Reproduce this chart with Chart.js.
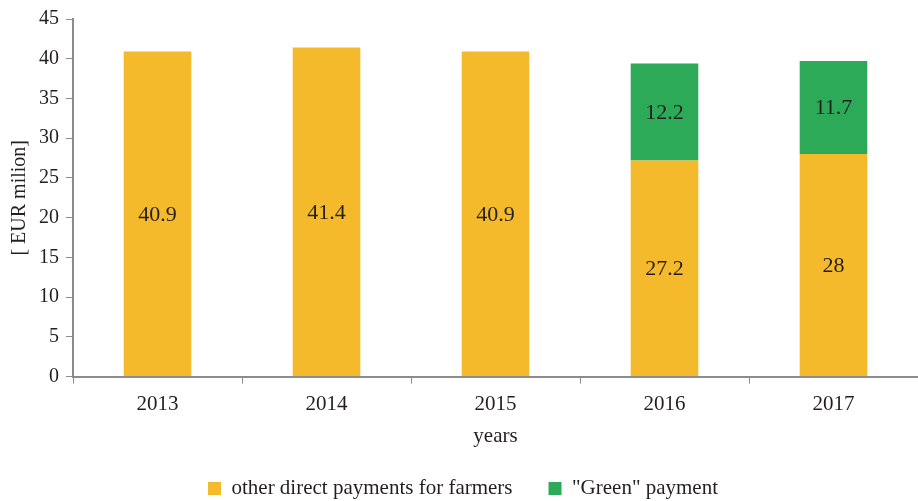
<!DOCTYPE html>
<html>
<head>
<meta charset="utf-8">
<script src="https://cdn.jsdelivr.net/npm/chart.js@4/dist/chart.umd.min.js"></script>
<style>
  html, body { margin: 0; padding: 0; background: #fff; }
  #wrap { width: 918px; height: 501px; }
</style>
</head>
<body>
<div id="wrap"><canvas id="myChart"></canvas></div>
<script>
const years = ["2013", "2014", "2015", "2016", "2017"];
const otherPayments = [40.9, 41.4, 40.9, 27.2, 28];
const greenPayments = [null, null, null, 12.2, 11.7];
const yTicks = [0, 5, 10, 15, 20, 25, 30, 35, 40, 45];

const axisGray = "#8c8c8c";
const serif = "'Liberation Serif', 'Times New Roman', serif";

// draws the value in the middle of each bar segment
const barLabels = {
  id: "barLabels",
  afterDatasetsDraw(chart) {
    const ctx = chart.ctx;
    ctx.save();
    ctx.font = "22px " + serif;
    ctx.fillStyle = "#231f20";
    ctx.textAlign = "center";
    ctx.textBaseline = "middle";
    chart.data.datasets.forEach((ds, i) => {
      chart.getDatasetMeta(i).data.forEach((bar, j) => {
        const v = ds.data[j];
        if (v == null) return;
        const mid = (bar.y + bar.base) / 2;
        ctx.fillText(String(v), bar.x, mid + 1);
      });
    });
    ctx.restore();
  }
};

new Chart("myChart", {
  type: "bar",
  data: {
    labels: years,
    datasets: [{
      label: "other direct payments for farmers",
      data: otherPayments,
      backgroundColor: "#f4ba2b",
      barPercentage: 0.8,
      categoryPercentage: 0.5
    }, {
      label: "\"Green\" payment",
      data: greenPayments,
      backgroundColor: "#2caa58",
      barPercentage: 0.8,
      categoryPercentage: 0.5
    }]
  },
  options: {
    responsive: true,
    maintainAspectRatio: false,
    animation: false,
    layout: { padding: { top: 4, right: 0, left: 8, bottom: -8 } },
    plugins: {
      tooltip: { enabled: false },
      legend: {
        position: "bottom",
        labels: {
          font: { family: serif, size: 21 },
          color: "#231f20",
          boxWidth: 13,
          boxHeight: 13,
          padding: 36
        }
      }
    },
    scales: {
      x: {
        stacked: true,
        grid: { drawOnChartArea: false, color: axisGray, tickLength: 7 },
        border: { color: axisGray, width: 2 },
        ticks: { font: { family: serif, size: 21 }, color: "#231f20", padding: 8 },
        title: {
          display: true,
          text: "years",
          font: { family: serif, size: 21 },
          color: "#231f20",
          padding: { top: -1, bottom: -7 }
        }
      },
      y: {
        stacked: true,
        min: 0,
        max: 45,
        afterBuildTicks(axis) { axis.ticks = yTicks.map(v => ({ value: v })); },
        grid: { drawOnChartArea: false, color: axisGray, tickLength: 7 },
        border: { color: axisGray, width: 2 },
        ticks: { font: { family: serif, size: 20 }, color: "#231f20", padding: 7 },
        title: {
          display: true,
          text: "[ EUR milion]",
          font: { family: serif, size: 20 },
          color: "#231f20",
          padding: { top: 0, bottom: 0 }
        }
      }
    }
  },
  plugins: [barLabels]
});
</script>
</body>
</html>
